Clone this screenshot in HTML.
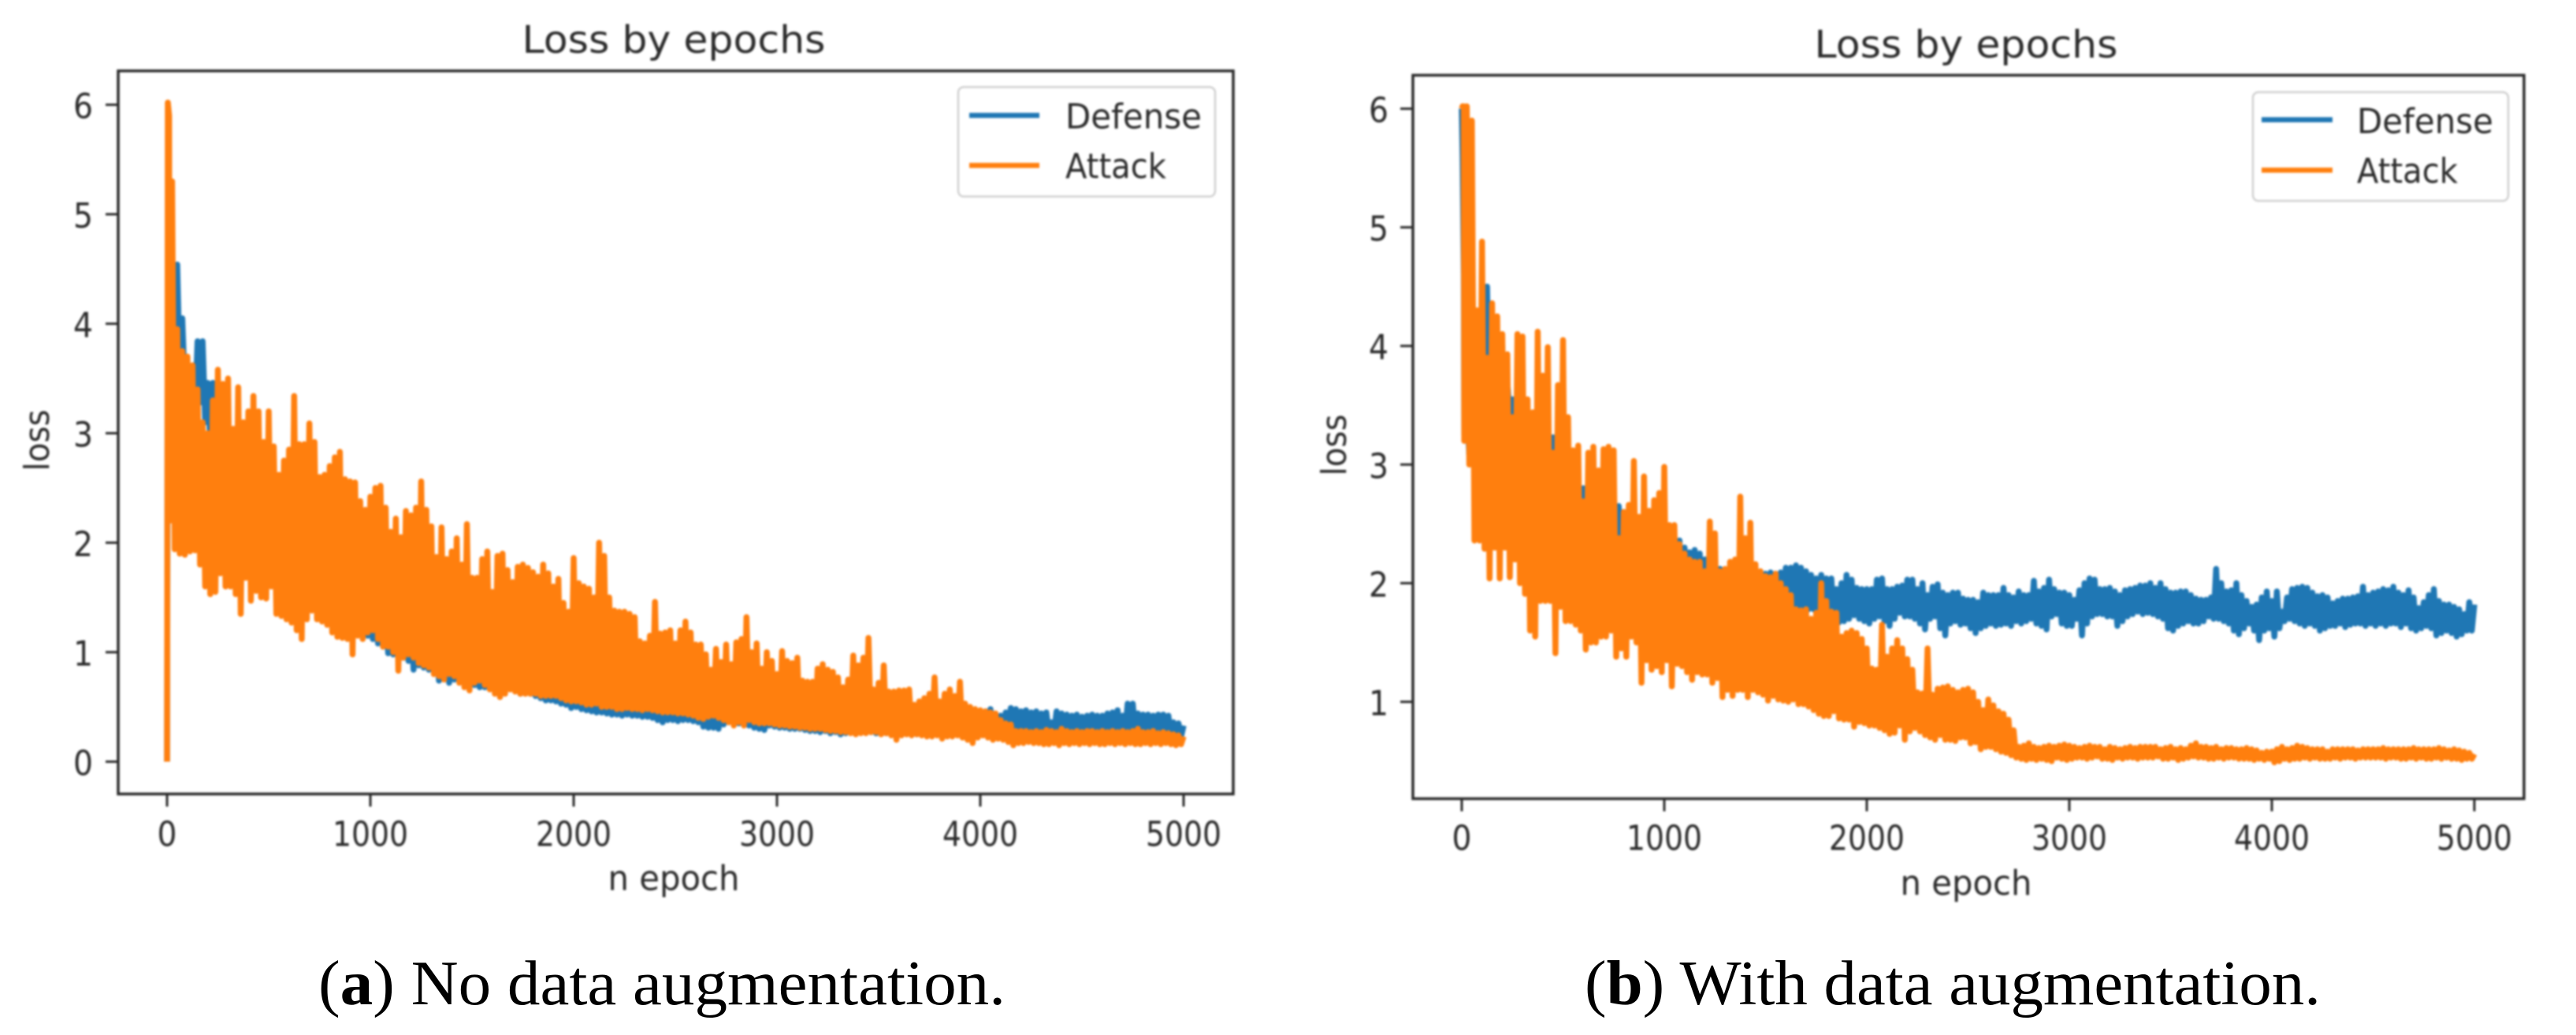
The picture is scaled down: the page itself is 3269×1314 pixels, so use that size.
<!DOCTYPE html>
<html lang="en">
<head>
<meta charset="utf-8">
<title>Loss by epochs</title>
<style>
html,body{margin:0;padding:0;background:#fff;width:3269px;height:1314px;overflow:hidden}
svg{display:block}
.lbl{font-family:"DejaVu Sans","Liberation Sans",sans-serif;fill:#2b2b2b}
.cap{font-family:"Liberation Serif",serif;fill:#000;font-size:80px}
.soft{filter:blur(1.4px)}
.softer{filter:blur(1.2px)}
</style>
</head>
<body>
<svg id="figure" xmlns="http://www.w3.org/2000/svg" width="3269" height="1314" viewBox="0 0 3269 1314">
  <rect width="3269" height="1314" fill="#fff"/>
  <g id="panel-a"></g>
  <g id="panel-b"></g>
  <text class="cap" x="404" y="1275" textLength="872" lengthAdjust="spacingAndGlyphs">(<tspan font-weight="bold">a</tspan>) No data augmentation.</text>
  <text class="cap" x="2011" y="1275" textLength="934" lengthAdjust="spacingAndGlyphs">(<tspan font-weight="bold">b</tspan>) With data augmentation.</text>
</svg>
<script>
// Axis categories
const xTickLabels = [0, 1000, 2000, 3000, 4000, 5000];
const yTickLabelsA = [0, 1, 2, 3, 4, 5, 6];
const yTickLabelsB = [1, 2, 3, 4, 5, 6];
const legendLabels = ['Defense', 'Attack'];
// Each series starts with a few lead samples, then one peak + one trough per 25 epochs (rows = 200 epochs)
const leadEpochs = [0, 4, 10];
const epochStep = 25;

// Panel (a) No data augmentation
const defenseALead = [0, 4.6, 4.0];
const defenseAPeaks = [
4.4,4.54,4.05,3.6,3.3,3.84,3.84,3.46,
3.46,3.1,2.9,2.85,2.8,2.75,2.7,2.65,
2.6,2.55,2.5,2.45,2.4,2.35,2.3,2.25,
2.2,2.15,2.1,2.05,2.0,1.95,1.9,1.88,
1.85,1.8,1.75,1.72,1.68,1.65,1.6,1.55,
1.5,1.48,1.45,1.42,1.38,1.35,1.3,1.28,
1.25,1.2,1.18,1.15,1.12,1.1,1.08,1.05,
1.02,1.0,.98,.95,.92,.9,.88,.86,
.85,.83,.8,.78,.76,.75,.73,.72,
.78,.74,.73,.76,.74,.7,.68,.66,
.66,.67,.65,.63,.64,.62,.6,.6,
.62,.6,.58,.6,.58,.55,.56,.54,
.55,.53,.56,.52,.5,.52,.5,.5,
.48,.46,.48,.47,.45,.46,.44,.45,
.44,.43,.42,.42,.41,.4,.4,.4,
.39,.4,.38,.38,.37,.38,.37,.36,
.36,.36,.36,.35,.35,.34,.35,.34,
.34,.34,.34,.33,.33,.34,.33,.33,
.33,.33,.34,.33,.33,.34,.33,.34,
.34,.35,.34,.35,.36,.35,.36,.37,
.46,.48,.42,.42,.45,.49,.48,.46,
.47,.45,.46,.44,.45,.36,.46,.44,
.43,.42,.43,.41,.42,.43,.42,.42,
.44,.45,.47,.42,.53,.53,.44,.43,
.43,.42,.43,.43,.42,.36,.35,.33];
const defenseATroughs = [
3.9,3.6,3.53,3.4,3.2,3.2,3.28,3.1,
2.93,2.85,2.7,2.65,2.55,2.5,2.4,2.35,
2.25,2.2,2.1,2.05,2.0,1.9,1.85,1.8,
1.75,1.7,1.65,1.6,1.55,1.5,1.45,1.4,
1.38,1.32,1.3,1.25,1.22,1.2,1.17,1.15,
1.12,1.08,1.05,.99,.98,.96,.95,.92,
.84,.88,.86,.84,.82,.74,.76,.72,
.75,.74,.72,.7,.7,.68,.68,.67,
.66,.64,.68,.7,.65,.62,.63,.62,
.6,.58,.56,.56,.55,.53,.52,.49,
.5,.48,.47,.46,.45,.45,.44,.43,
.43,.42,.43,.42,.42,.41,.41,.4,
.38,.36,.38,.38,.37,.38,.38,.37,
.36,.32,.31,.31,.3,.34,.36,.35,
.35,.34,.33,.31,.3,.29,.33,.32,
.31,.31,.3,.3,.3,.29,.28,.28,
.27,.28,.26,.27,.25,.26,.27,.26,
.27,.27,.27,.26,.26,.26,.25,.26,
.25,.26,.25,.25,.25,.25,.25,.25,
.25,.25,.25,.25,.24,.25,.24,.25,
.25,.25,.25,.25,.25,.26,.26,.26,
.26,.26,.26,.26,.26,.26,.26,.26,
.26,.26,.25,.26,.25,.26,.26,.25,
.26,.25,.26,.25,.26,.25,.26,.25,
.25,.25,.25,.24,.25,.24,.24,.23];
const attackALead = [0, 6.02, 5.9];
const attackAPeaks = [
5.3,3.95,3.75,3.7,3.62,3.4,3.1,3.0,
3.3,3.58,3.45,3.5,3.04,3.42,3.1,3.2,
3.34,3.2,2.92,3.2,2.88,2.62,2.75,2.85,
3.34,2.9,2.9,3.09,2.92,2.6,2.62,2.7,
2.78,2.83,2.58,2.56,2.55,2.38,2.3,2.42,
2.5,2.52,2.32,2.1,2.22,2.05,2.29,2.25,
2.32,2.56,2.3,2.15,1.87,2.14,1.85,1.92,
2.04,1.8,2.17,1.68,1.68,1.85,1.92,1.55,
1.88,1.9,1.75,1.64,1.78,1.8,1.77,1.73,
1.69,1.8,1.72,1.6,1.67,1.45,1.37,1.86,
1.63,1.6,1.58,1.5,2.0,1.88,1.5,1.38,
1.37,1.37,1.35,1.32,1.1,1.08,1.15,1.46,
1.17,1.18,1.2,1.08,1.2,1.28,1.18,1.07,
1.07,.98,.84,1.03,.91,1.07,.89,1.09,
1.12,1.32,1.0,1.08,.85,1.0,.92,.8,
1.01,.92,.9,.95,.74,.73,.73,.85,
.89,.84,.82,.77,.68,.75,.97,.88,
.95,1.13,.66,.72,.88,.64,.64,.65,
.65,.66,.52,.55,.58,.62,.77,.55,
.62,.66,.6,.73,.53,.5,.48,.47,
.46,.45,.44,.38,.35,.34,.28,.28,
.28,.27,.28,.27,.29,.28,.27,.3,
.28,.27,.28,.27,.28,.28,.27,.28,
.27,.28,.27,.28,.27,.28,.3,.27,
.27,.28,.26,.27,.26,.25,.24,.23];
const attackATroughs = [
2.2,1.94,1.9,1.89,1.92,1.93,1.8,1.6,
1.53,1.55,1.72,1.6,1.6,1.53,1.35,1.68,
1.47,1.56,1.5,1.49,1.6,1.35,1.33,1.3,
1.27,1.2,1.12,1.3,1.38,1.3,1.28,1.25,
1.18,1.14,1.13,1.12,.98,1.15,1.12,1.18,
1.2,1.12,1.05,1.05,1.0,.83,.95,.98,
.95,.9,.88,.86,.8,.78,.75,.8,
.78,.72,.68,.65,.72,.74,.7,.66,
.62,.59,.62,.66,.64,.62,.62,.62,
.62,.6,.6,.6,.6,.58,.56,.55,
.55,.54,.52,.52,.53,.5,.5,.5,
.48,.48,.49,.48,.48,.47,.48,.47,
.46,.45,.45,.45,.44,.44,.43,.42,
.4,.39,.41,.42,.4,.38,.36,.33,
.36,.33,.38,.36,.35,.35,.35,.34,
.33,.33,.32,.32,.31,.31,.3,.3,
.3,.29,.28,.28,.27,.27,.26,.25,
.26,.26,.27,.27,.25,.26,.24,.2,
.24,.25,.24,.25,.24,.23,.23,.24,
.21,.23,.23,.24,.22,.2,.17,.22,
.24,.22,.2,.21,.2,.18,.15,.17,
.17,.18,.17,.17,.16,.16,.17,.15,
.17,.16,.17,.16,.17,.16,.17,.16,
.16,.17,.16,.17,.16,.17,.16,.16,
.17,.16,.17,.16,.17,.16,.15,.16];

// Panel (b) With data augmentation
const defenseBLead = [6.0, 5.6, 4.6];
const defenseBPeaks = [
3.5,3.6,4.1,4.0,4.5,4.2,3.9,4.0,
3.7,3.55,3.4,3.3,3.2,3.2,3.1,3.1,
3.05,3.23,3.0,2.95,2.9,2.85,2.85,2.8,
2.8,2.75,2.75,2.7,2.7,2.65,2.65,2.6,
2.6,2.55,2.55,2.5,2.5,2.45,2.45,2.45,
2.4,2.4,2.36,2.3,2.26,2.28,2.25,2.2,
2.15,2.15,2.12,2.1,2.12,2.12,2.1,2.1,
2.08,2.06,2.06,2.08,2.09,2.08,2.09,2.13,
2.13,2.15,2.13,2.1,2.07,2.04,2.07,2.04,
2.04,1.95,2.0,2.07,2.03,1.96,1.95,1.95,
1.95,2.03,2.04,1.95,1.95,1.97,1.98,2.03,
2.03,1.95,2.0,1.9,1.97,1.99,1.92,1.9,
1.92,1.92,1.87,1.86,1.86,1.84,1.92,1.9,
1.9,1.9,1.96,1.9,1.88,1.93,1.9,1.9,
2.02,1.93,1.96,2.03,1.95,1.92,1.92,1.9,
1.86,1.94,2.0,2.04,2.03,1.95,1.95,1.96,
1.93,1.9,1.94,1.95,1.96,1.98,1.98,2.0,
1.96,2.0,1.95,1.92,1.92,1.93,1.93,1.9,
1.87,1.86,1.86,1.88,2.12,2.0,1.93,1.94,
2.0,1.9,1.85,1.8,1.82,1.88,1.93,1.85,
1.93,1.76,1.88,1.95,1.96,1.97,1.96,1.92,
1.89,1.9,1.88,1.83,1.85,1.87,1.87,1.88,
1.89,1.97,1.9,1.92,1.93,1.95,1.94,1.97,
1.92,1.9,1.94,1.88,1.79,1.84,1.9,1.95,
1.85,1.82,1.82,1.8,1.78,1.74,1.84,1.82];
const defenseBTroughs = [
3.25,3.08,3.0,3.0,3.73,3.2,3.2,3.9,
2.9,3.41,2.8,2.75,2.7,2.65,2.6,2.55,
2.5,3.13,2.45,2.4,2.35,2.3,2.3,2.25,
2.25,2.2,2.2,2.15,2.15,2.1,2.1,2.05,
2.05,2.0,2.0,1.95,1.95,1.9,1.9,1.9,
1.9,1.85,1.85,1.8,1.8,1.8,1.8,1.8,
1.8,1.8,2.0,1.8,1.8,1.8,1.8,1.8,
1.8,1.8,1.8,1.8,1.88,1.85,1.85,1.82,
1.79,1.8,1.78,1.78,1.78,1.78,1.72,1.7,
1.68,1.7,1.67,1.68,1.7,1.73,1.7,1.68,
1.66,1.7,1.72,1.68,1.64,1.7,1.75,1.72,
1.72,1.7,1.66,1.61,1.7,1.72,1.62,1.56,
1.66,1.68,1.65,1.66,1.62,1.58,1.62,1.64,
1.66,1.64,1.65,1.66,1.64,1.68,1.66,1.68,
1.7,1.66,1.64,1.61,1.72,1.74,1.66,1.64,
1.64,1.7,1.56,1.66,1.72,1.74,1.74,1.72,
1.72,1.64,1.68,1.72,1.74,1.76,1.74,1.75,
1.74,1.72,1.7,1.62,1.6,1.64,1.66,1.68,
1.66,1.66,1.68,1.72,1.7,1.7,1.68,1.66,
1.6,1.57,1.62,1.66,1.6,1.52,1.6,1.62,
1.55,1.62,1.68,1.7,1.68,1.66,1.64,1.66,
1.64,1.6,1.62,1.64,1.64,1.66,1.63,1.65,
1.66,1.66,1.64,1.66,1.64,1.66,1.64,1.66,
1.66,1.63,1.66,1.62,1.6,1.62,1.64,1.62,
1.56,1.58,1.6,1.58,1.55,1.57,1.6,1.6];
const attackBLead = [6.0, 6.02, 6.02];
const attackBPeaks = [
6.02,5.9,4.3,4.88,3.9,4.36,4.25,4.1,
3.93,3.4,4.1,4.08,3.55,3.44,4.12,3.75,
3.99,3.1,3.67,4.05,3.4,3.12,3.16,2.69,
3.1,3.15,2.95,3.13,3.15,3.12,2.38,2.6,
2.66,3.03,2.56,2.9,2.61,2.7,2.76,2.98,
2.49,2.49,2.33,2.25,2.2,2.18,2.18,2.1,
2.52,2.42,2.1,2.12,2.18,2.2,2.73,2.38,
2.51,2.16,2.1,2.06,2.05,2.08,2.0,1.95,
1.9,1.78,1.77,1.78,1.7,1.75,2.0,1.85,
1.76,1.75,1.55,1.58,1.6,1.58,1.53,1.45,
1.28,1.27,1.65,1.38,1.45,1.52,1.45,1.36,
1.27,1.08,1.07,1.45,1.06,1.11,1.12,1.13,
1.1,1.08,1.1,1.11,1.08,1.0,.93,1.02,
.97,.92,.9,.85,.76,.62,.63,.65,
.62,.61,.62,.63,.62,.63,.64,.63,
.62,.61,.62,.63,.62,.62,.6,.62,
.61,.6,.61,.62,.61,.62,.62,.62,
.62,.6,.61,.62,.6,.61,.6,.63,
.65,.62,.62,.61,.62,.6,.61,.61,
.6,.6,.61,.6,.59,.57,.58,.58,
.6,.62,.6,.61,.63,.62,.61,.6,
.6,.6,.58,.6,.6,.6,.6,.6,
.59,.6,.6,.6,.6,.61,.6,.6,
.6,.6,.6,.61,.6,.6,.6,.6,
.61,.6,.59,.6,.59,.58,.57,.56];
const attackBTroughs = [
3.2,3.0,2.36,2.36,2.29,2.04,2.3,2.04,
2.3,2.05,2.2,2.0,1.91,1.6,1.55,1.85,
1.85,1.85,1.41,1.8,1.68,1.68,1.65,1.6,
1.44,1.5,1.5,1.55,1.55,1.6,1.38,1.45,
1.38,1.55,1.5,1.16,1.35,1.27,1.3,1.25,
1.35,1.13,1.32,1.3,1.25,1.185,1.25,1.23,
1.23,1.16,1.2,1.04,1.1,1.05,1.1,1.1,
1.04,1.1,1.08,1.06,1.01,1.05,1.02,1.01,
1.0,1.02,.98,.98,.96,.93,.9,.88,
.88,.92,.86,.85,.85,.79,.83,.82,
.8,.8,.78,.76,.73,.74,.8,.68,
.75,.78,.75,.72,.7,.68,.72,.68,
.68,.67,.7,.7,.65,.66,.6,.62,
.62,.6,.58,.57,.55,.53,.52,.51,
.52,.51,.52,.51,.5,.53,.52,.51,
.52,.53,.53,.52,.53,.54,.52,.52,
.51,.53,.52,.53,.53,.52,.53,.53,
.53,.54,.52,.52,.53,.51,.52,.53,
.54,.53,.53,.52,.52,.53,.52,.53,
.53,.52,.52,.52,.51,.52,.51,.52,
.49,.5,.52,.51,.52,.52,.53,.52,
.53,.52,.52,.52,.53,.52,.53,.53,
.52,.53,.53,.53,.53,.53,.52,.53,
.53,.52,.52,.53,.52,.53,.52,.52,
.53,.52,.53,.52,.52,.51,.52,.52];

const NS = 'http://www.w3.org/2000/svg';
const BLUE = '#1f77b4';
const ORANGE = '#ff7f0e';

function mk(parent, tag) {
  const el = document.createElementNS(NS, tag);
  parent.appendChild(el);
  return el;
}
function setAll(el, attrs) {
  for (const k in attrs) el.setAttribute(k, attrs[k]);
}

function drawPanel(id, cfg) {
  const root = document.getElementById(id);
  const xAt = v => cfg.x0 + v * (cfg.x5000 - cfg.x0) / 5000;
  const yAt = v => cfg.yLowPx + (v - cfg.yLowVal) * (cfg.yHighPx - cfg.yLowPx) / (6 - cfg.yLowVal);

  const plot = mk(root, 'g');
  
  
  plot.setAttribute('class', 'soft');

  const bg = mk(plot, 'rect');
  
  
  setAll(bg, {x: cfg.left, y: cfg.top, width: cfg.right - cfg.left, height: cfg.bottom - cfg.top, fill: '#fff'});

  function linePoints(s) {
    const out = [];
    const add = (e, v) => out.push(xAt(e).toFixed(1) + ',' + yAt(v).toFixed(1));
    s.lead.forEach((v, i) => add(leadEpochs[i], v));
    s.peaks.forEach((v, i) => {
      const e = (i + 1) * epochStep;
      add(e - epochStep / 2, s.troughs[i]);
      add(e, v);
    });
    return out.join(' ');
  }

  const lineD = mk(plot, 'polyline');
  
  
  setAll(lineD, {points: linePoints(cfg.defense), fill: 'none', stroke: BLUE, 'stroke-width': 7.5, 'stroke-linejoin': 'round', 'stroke-linecap': 'butt'});

  const lineA = mk(plot, 'polyline');
  
  
  setAll(lineA, {points: linePoints(cfg.attack), fill: 'none', stroke: ORANGE, 'stroke-width': 7.5, 'stroke-linejoin': 'round', 'stroke-linecap': 'butt'});

  const frame = mk(plot, 'rect');
  
  
  setAll(frame, {x: cfg.left, y: cfg.top, width: cfg.right - cfg.left, height: cfg.bottom - cfg.top, fill: 'none', stroke: '#2a2a2a', 'stroke-width': 3.5});

  cfg.xTicks.forEach(v => {
    const t = mk(plot, 'line');
    
    
    setAll(t, {x1: xAt(v), x2: xAt(v), y1: cfg.bottom, y2: cfg.bottom + 16, stroke: '#2a2a2a', 'stroke-width': 3});
  });
  cfg.yTicks.forEach(v => {
    const t = mk(plot, 'line');
    
    
    setAll(t, {x1: cfg.left - 16, x2: cfg.left, y1: yAt(v), y2: yAt(v), stroke: '#2a2a2a', 'stroke-width': 3});
  });

  const labels = mk(root, 'g');
  
  
  labels.setAttribute('class', 'softer');

  function label(str, x, y, size, anchor, len) {
    const el = mk(labels, 'text');
    el.setAttribute('class', 'lbl');
    setAll(el, {x: x, y: y, 'font-size': size, 'text-anchor': anchor, textLength: len, lengthAdjust: 'spacingAndGlyphs'});
    el.textContent = str;
    return el;
  }

  const title = label('Loss by epochs', cfg.titleX, cfg.titleY, 48, 'middle', 385);
  
  

  const xTitle = label('n epoch', cfg.xTitleX, cfg.xTitleY, 44, 'middle', 167);
  
  

  const yTitle = label('loss', 0, 0, 44, 'middle', 78);
  
  
  yTitle.setAttribute('transform', 'translate(' + cfg.yTitleX + ',' + cfg.yTitleY + ') rotate(-90)');

  cfg.xTicks.forEach(v => {
    const str = String(v);
    const t = label(str, xAt(v), cfg.xTickY, 44, 'middle', str.length === 1 ? 25 : 96);
    
    
  });
  cfg.yTicks.forEach(v => {
    const t = label(String(v), cfg.yTickRight, yAt(v) + 17, 44, 'end', 25);
    
    
  });

  const legend = mk(root, 'g');
  
  
  legend.setAttribute('class', 'softer');

  const box = mk(legend, 'rect');
  
  
  setAll(box, {x: cfg.lx, y: cfg.ly, width: cfg.lw, height: cfg.lh, rx: 7, fill: '#fff', 'fill-opacity': 0.85, stroke: '#d0d0d0', 'stroke-width': 2.5});

  legendLabels.forEach((name, i) => {
    const h = mk(legend, 'line');
    
    
    setAll(h, {x1: cfg.hx1, x2: cfg.hx2, y1: cfg.hy[i], y2: cfg.hy[i], stroke: i === 0 ? BLUE : ORANGE, 'stroke-width': 6.5});
    const t = mk(legend, 'text');
    
    
    t.setAttribute('class', 'lbl');
    setAll(t, {x: cfg.tx, y: cfg.ty[i], 'font-size': 44, textLength: i === 0 ? 173 : 128, lengthAdjust: 'spacingAndGlyphs'});
    t.textContent = name;
  });
}

drawPanel('panel-a', {
  defense: {lead: defenseALead, peaks: defenseAPeaks, troughs: defenseATroughs},
  attack: {lead: attackALead, peaks: attackAPeaks, troughs: attackATroughs},
  xTicks: xTickLabels, yTicks: yTickLabelsA,
  left: 150, right: 1565, top: 90, bottom: 1008,
  x0: 212, x5000: 1502, yLowVal: 0, yLowPx: 967, yHighPx: 133,
  titleX: 855, titleY: 67, xTitleX: 855, xTitleY: 1130, xTickY: 1074,
  yTitleX: 62, yTitleY: 559, yTickRight: 118,
  lx: 1216, ly: 110.5, lw: 326, lh: 139,
  hx1: 1230, hx2: 1319, hy: [146.5, 210], tx: 1352, ty: [163, 226]
});
drawPanel('panel-b', {
  defense: {lead: defenseBLead, peaks: defenseBPeaks, troughs: defenseBTroughs},
  attack: {lead: attackBLead, peaks: attackBPeaks, troughs: attackBTroughs},
  xTicks: xTickLabels, yTicks: yTickLabelsB,
  left: 1793, right: 3203, top: 95.5, bottom: 1014,
  x0: 1855, x5000: 3140, yLowVal: 1, yLowPx: 891, yHighPx: 138,
  titleX: 2495, titleY: 73, xTitleX: 2495, xTitleY: 1136, xTickY: 1079,
  yTitleX: 1708, yTitleY: 565, yTickRight: 1762,
  lx: 2859, ly: 117, lw: 324, lh: 138,
  hx1: 2870, hx2: 2960, hy: [152, 216], tx: 2991, ty: [169, 232]
});
</script>
</body>
</html>
